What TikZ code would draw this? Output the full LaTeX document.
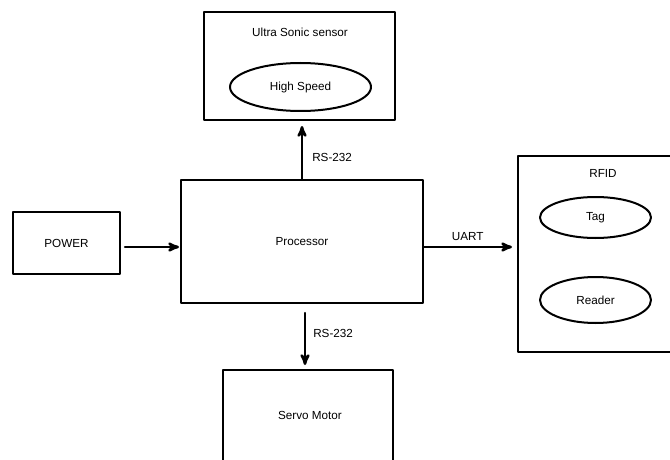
\documentclass[tikz,border=0pt]{standalone}
\usepackage{fontspec}
\setmainfont{Liberation Sans}
\usetikzlibrary{arrows,calc,shapes.geometric}
\tikzset{>=stealth',
every picture/.append style={
    line join=round,
    line cap=round,
    line width=2pt
  },
blk/.style={draw,rectangle,inner sep=0pt},
oval/.style={draw,ellipse,inner sep=0pt},
lbl/.style={font=\fontsize{11.7}{14}\selectfont,inner sep=0pt}}

\begin{document}
\begin{tikzpicture}[x=1pt,y=-1pt]
        \useasboundingbox (0,0) rectangle (670,460);
        \clip (0,0) rectangle (670,460);
        \node [blk,minimum width=191pt,minimum height=108pt] (sonic) at (299.5,66) {};
        \node [lbl] (sonictitle) at (300,32) {Ultra Sonic sensor};
        \node [oval,lbl,minimum width=141pt,minimum height=48pt] (speed) at (300.5,87) {High Speed};
        \node [blk,lbl,minimum width=242pt,minimum height=123pt] (proc) at (302,241.5) {Processor};
        \node [blk,lbl,minimum width=107pt,minimum height=62pt] (power) at (66.5,243) {POWER};
        \node [blk,minimum width=190pt,minimum height=196pt] (rfid) at (613,254) {};
        \node [lbl] (rfidtitle) at (603,173) {RFID};
        \node [oval,lbl,minimum width=111pt,minimum height=41pt] (tag) at (595.5,217.5) {Tag};
        \node [oval,lbl,minimum width=111pt,minimum height=46pt] (reader) at (595.5,300) {Reader};
        \node [blk,minimum width=170pt,minimum height=140pt] (servo) at (308,440) {};
        \node [lbl] (servotitle) at (310,415) {Servo Motor};
        \draw [->,line width=2.5pt,shorten >=5pt] (proc.north) -- (proc.north |- sonic.south) node [lbl,pos=.37,right=9pt] (rsup) {RS-232};
        \draw [->,line width=2.5pt,shorten <=4pt,shorten >=1pt] ([yshift=-4pt]power.east) -- ([yshift=-4pt]power.east -| proc.west);
        \draw [->,line width=2.5pt,shorten >=5pt] ([yshift=-5.5pt]proc.east) -- ([yshift=-5.5pt]proc.east -| rfid.west) node [lbl,pos=.47,above=5pt] (uart) {UART};
        \draw [->,line width=2.5pt,shorten <=9pt,shorten >=4pt] ([xshift=3pt]proc.south) -- ([xshift=3pt]proc.south |- servo.north) node [lbl,pos=.45,right=7pt] (rsdown) {RS-232};
    \end{tikzpicture}
\end{document}
